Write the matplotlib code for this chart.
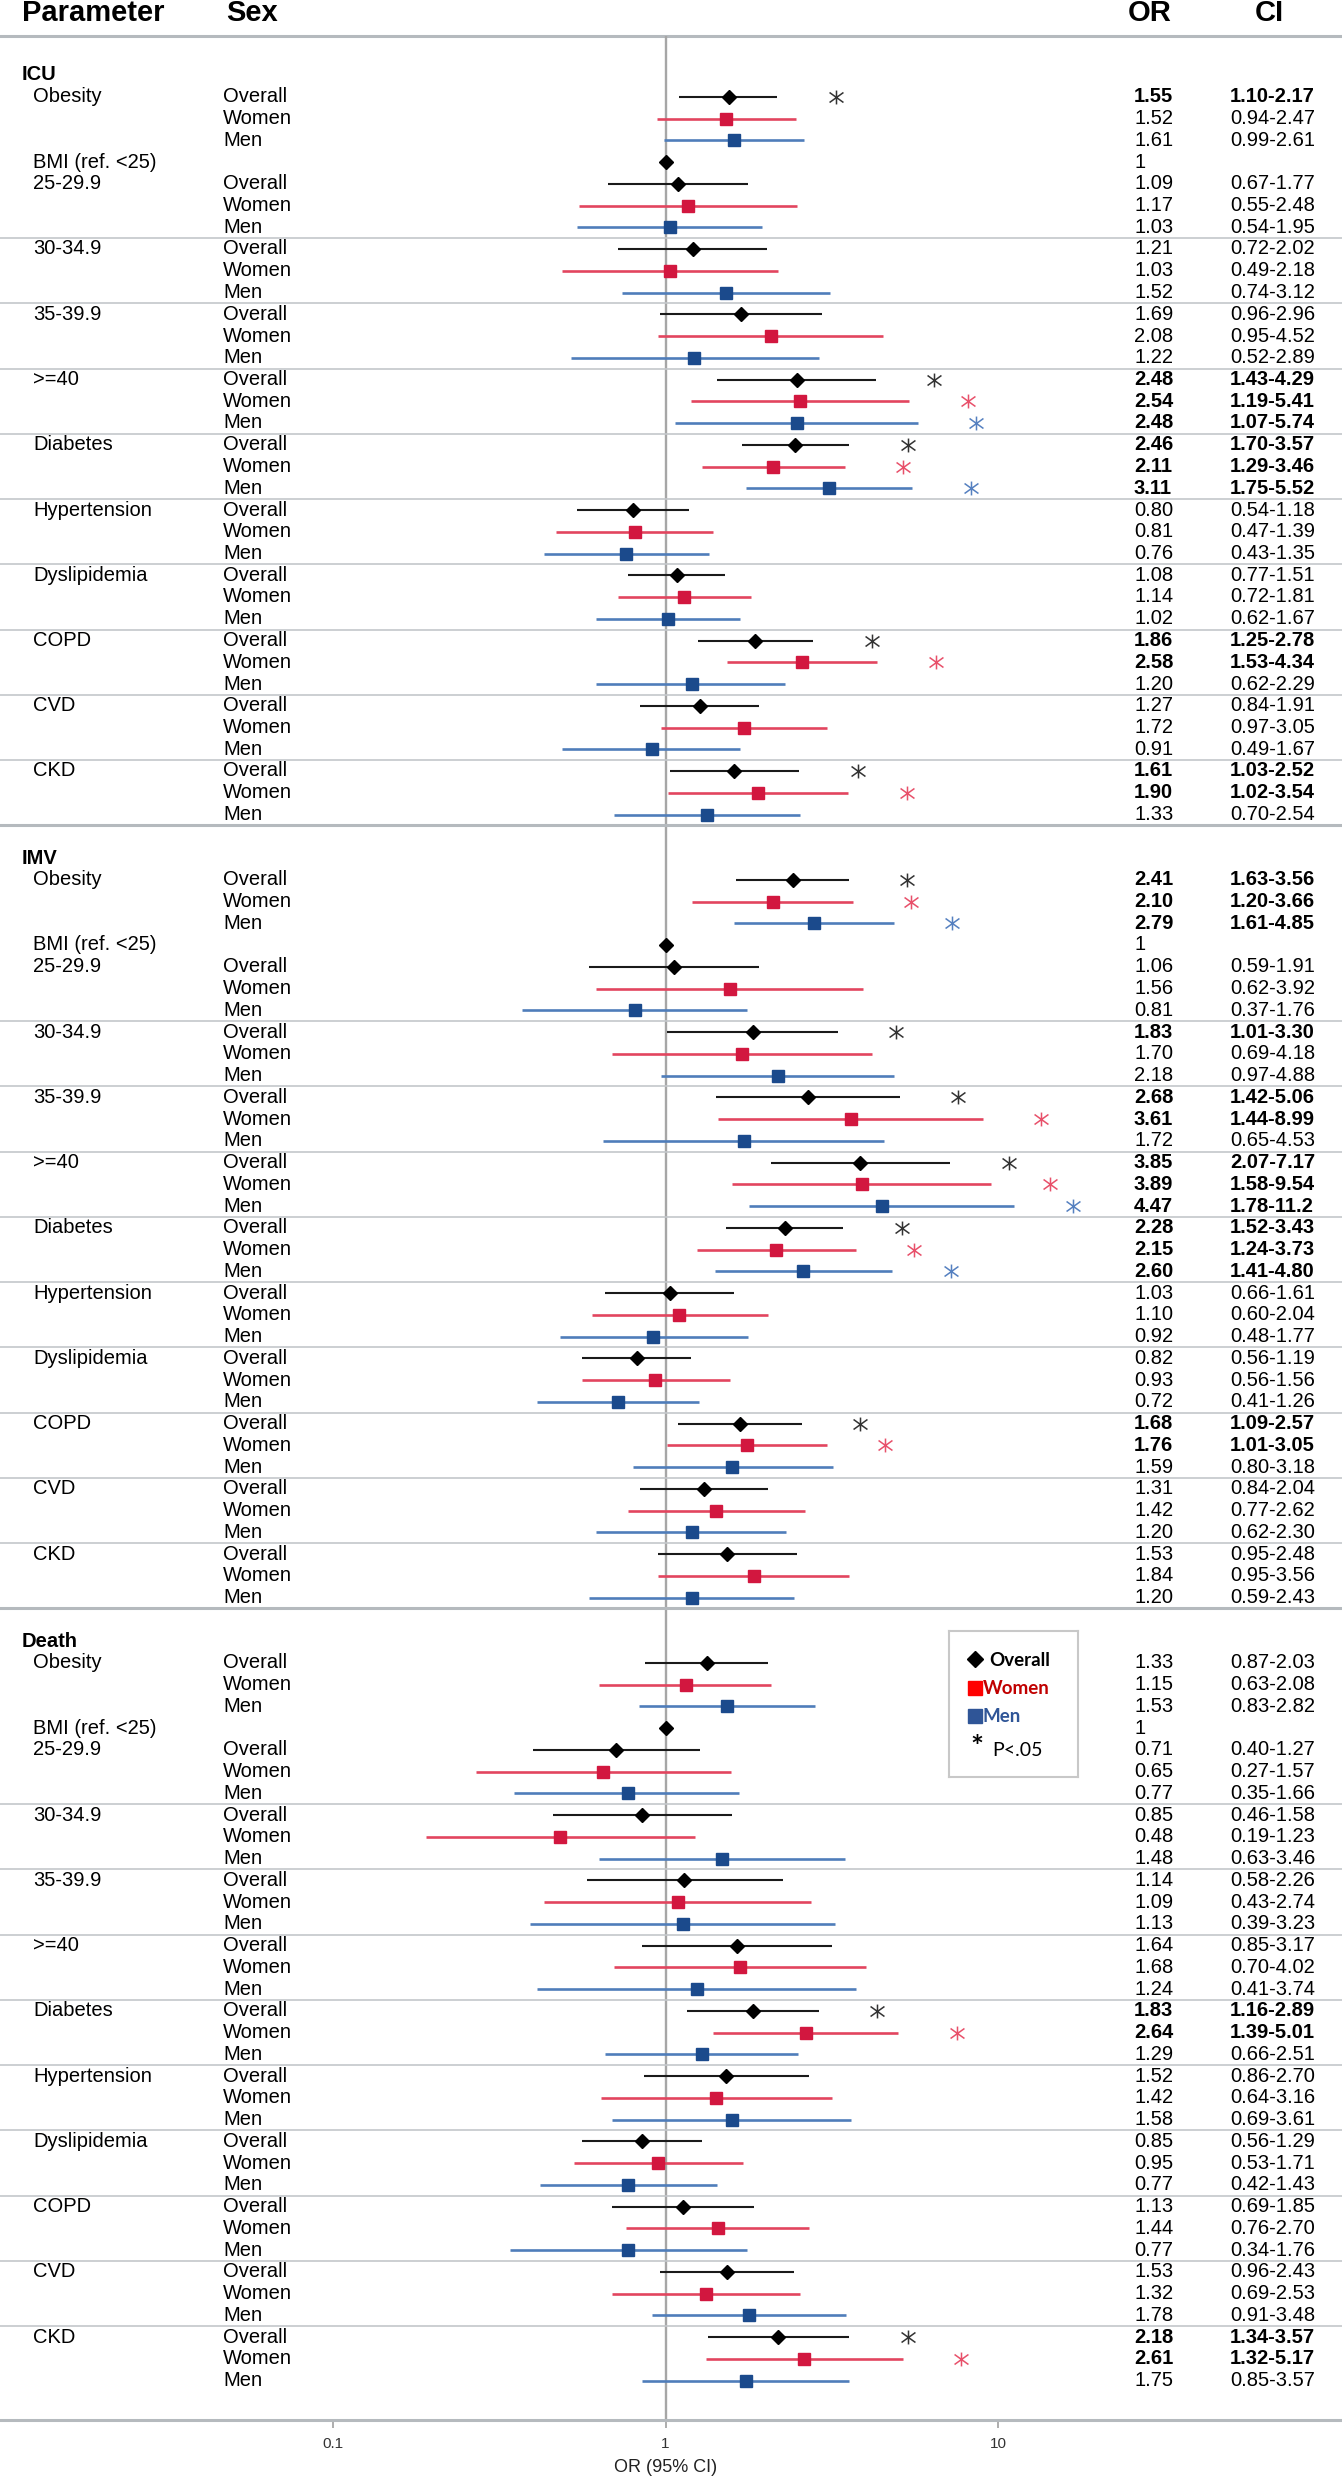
import numpy as np
import matplotlib
matplotlib.use("Agg")
import matplotlib.pyplot as plt
from matplotlib.path import Path
from matplotlib.transforms import blended_transform_factory
from matplotlib.ticker import NullLocator

plt.rcParams['font.family'] = ['Liberation Sans', 'DejaVu Sans']

# ---- data ----
sections = ['ICU', 'IMV', 'Death']
params = ['Obesity', '25-29.9', '30-34.9', '35-39.9', '>=40', 'Diabetes',
          'Hypertension', 'Dyslipidemia', 'COPD', 'CVD', 'CKD']
sexes = ['Overall', 'Women', 'Men']
ref_label = 'BMI (ref. <25)'

# each row: [overall, women, men]
icu_or = [[1.55, 1.52, 1.61], [1.09, 1.17, 1.03], [1.21, 1.03, 1.52], [1.69, 2.08, 1.22],
          [2.48, 2.54, 2.48], [2.46, 2.11, 3.11], [0.80, 0.81, 0.76], [1.08, 1.14, 1.02],
          [1.86, 2.58, 1.20], [1.27, 1.72, 0.91], [1.61, 1.90, 1.33]]
icu_lo = [[1.10, 0.94, 0.99], [0.67, 0.55, 0.54], [0.72, 0.49, 0.74], [0.96, 0.95, 0.52],
          [1.43, 1.19, 1.07], [1.70, 1.29, 1.75], [0.54, 0.47, 0.43], [0.77, 0.72, 0.62],
          [1.25, 1.53, 0.62], [0.84, 0.97, 0.49], [1.03, 1.02, 0.70]]
icu_hi = [[2.17, 2.47, 2.61], [1.77, 2.48, 1.95], [2.02, 2.18, 3.12], [2.96, 4.52, 2.89],
          [4.29, 5.41, 5.74], [3.57, 3.46, 5.52], [1.18, 1.39, 1.35], [1.51, 1.81, 1.67],
          [2.78, 4.34, 2.29], [1.91, 3.05, 1.67], [2.52, 3.54, 2.54]]

imv_or = [[2.41, 2.10, 2.79], [1.06, 1.56, 0.81], [1.83, 1.70, 2.18], [2.68, 3.61, 1.72],
          [3.85, 3.89, 4.47], [2.28, 2.15, 2.60], [1.03, 1.10, 0.92], [0.82, 0.93, 0.72],
          [1.68, 1.76, 1.59], [1.31, 1.42, 1.20], [1.53, 1.84, 1.20]]
imv_lo = [[1.63, 1.20, 1.61], [0.59, 0.62, 0.37], [1.01, 0.69, 0.97], [1.42, 1.44, 0.65],
          [2.07, 1.58, 1.78], [1.52, 1.24, 1.41], [0.66, 0.60, 0.48], [0.56, 0.56, 0.41],
          [1.09, 1.01, 0.80], [0.84, 0.77, 0.62], [0.95, 0.95, 0.59]]
imv_hi = [[3.56, 3.66, 4.85], [1.91, 3.92, 1.76], [3.30, 4.18, 4.88], [5.06, 8.99, 4.53],
          [7.17, 9.54, 11.2], [3.43, 3.73, 4.80], [1.61, 2.04, 1.77], [1.19, 1.56, 1.26],
          [2.57, 3.05, 3.18], [2.04, 2.62, 2.30], [2.48, 3.56, 2.43]]

death_or = [[1.33, 1.15, 1.53], [0.71, 0.65, 0.77], [0.85, 0.48, 1.48], [1.14, 1.09, 1.13],
            [1.64, 1.68, 1.24], [1.83, 2.64, 1.29], [1.52, 1.42, 1.58], [0.85, 0.95, 0.77],
            [1.13, 1.44, 0.77], [1.53, 1.32, 1.78], [2.18, 2.61, 1.75]]
death_lo = [[0.87, 0.63, 0.83], [0.40, 0.27, 0.35], [0.46, 0.19, 0.63], [0.58, 0.43, 0.39],
            [0.85, 0.70, 0.41], [1.16, 1.39, 0.66], [0.86, 0.64, 0.69], [0.56, 0.53, 0.42],
            [0.69, 0.76, 0.34], [0.96, 0.69, 0.91], [1.34, 1.32, 0.85]]
death_hi = [[2.03, 2.08, 2.82], [1.27, 1.57, 1.66], [1.58, 1.23, 3.46], [2.26, 2.74, 3.23],
            [3.17, 4.02, 3.74], [2.89, 5.01, 2.51], [2.70, 3.16, 3.61], [1.29, 1.71, 1.43],
            [1.85, 2.70, 1.76], [2.43, 2.53, 3.48], [3.57, 5.17, 3.57]]

all_or = [icu_or, imv_or, death_or]
all_lo = [icu_lo, imv_lo, death_lo]
all_hi = [icu_hi, imv_hi, death_hi]

# ---- styling ----
W, H = 1342, 2480
ROW = 21.75          # px per row
TOP_ROW_PX = 75      # pixel of first section header row
AXIS_PX = 2420

mk_face = ['black', '#D2173F', '#1B4A8C']
ln_color = ['#1a1a1a', '#E2455F', '#4F7DBA']
ast_color = ['#333333', '#E8506A', '#5580C0']
markers = ['D', 's', 's']
msizes = [7, 8.5, 8.5]
lwidths = [1.5, 1.9, 1.9]
sep_color = '#C3C7CB'
thick_color = '#B5BABE'

fs = 14.5


def fmt(v):
    return f"{v:.1f}" if v >= 10 else f"{v:.2f}"


fig = plt.figure(figsize=(W / 100, H / 100), dpi=100)
ax = fig.add_axes([0, (H - AXIS_PX) / H, 1, AXIS_PX / H])
ax.set_xscale('log')
dec, one_px = 332.5, 665.5
ax.set_xlim(10 ** (-one_px / dec), 10 ** ((W - one_px) / dec))
y_top = -TOP_ROW_PX / ROW
ax.set_ylim(y_top + AXIS_PX / ROW, y_top)

tx = blended_transform_factory(ax.transAxes, ax.transData)


def px(x):
    return x / W


ast_path = Path([(0, -1), (0, 1), (-1, -0.72), (1, 0.72), (-1, 0.72), (1, -0.72)],
                [Path.MOVETO, Path.LINETO] * 3)

# header
head_y = (13 - TOP_ROW_PX) / ROW
for lab, xp in [('Parameter', 22), ('Sex', 226), ('OR', 1128), ('CI', 1255)]:
    ax.text(px(xp), head_y, lab, transform=tx, fontsize=21, fontweight='bold',
            va='center', ha='left')
line_y = (36 - TOP_ROW_PX) / ROW
ax.axhline(line_y, color=thick_color, lw=2.2, zorder=1)

# reference line at OR = 1
ax.vlines(1, line_y, y_top + AXIS_PX / ROW, color='#A6A6A6', lw=1.7, zorder=1)

for si, sec in enumerate(sections):
    s = 36 * si
    ax.text(px(22), s, sec, transform=tx, fontsize=fs, fontweight='bold', va='center')
    # reference BMI row
    ax.text(px(33), s + 4, ref_label, transform=tx, fontsize=fs, va='center')
    ax.plot(1, s + 4, 'D', color='black', ms=7, zorder=4)
    ax.text(px(1134), s + 4, '1', transform=tx, fontsize=fs, va='center')

    for j, p in enumerate(params):
        base = s + 1 if j == 0 else s + 5 + 3 * (j - 1)
        ax.text(px(33), base, p, transform=tx, fontsize=fs, va='center')
        for k, sx in enumerate(sexes):
            r = base + k
            o = all_or[si][j][k]
            lo = all_lo[si][j][k]
            hi = all_hi[si][j][k]
            sig = lo > 1
            ax.text(px(223), r, sx, transform=tx, fontsize=fs, va='center')
            ax.hlines(r, lo, hi, color=ln_color[k], lw=lwidths[k], zorder=2)
            ax.plot(o, r, markers[k], color=mk_face[k], ms=msizes[k], zorder=4)
            wt = 'bold' if sig else 'normal'
            ax.text(px(1134), r, fmt(o), transform=tx, fontsize=fs, va='center', fontweight=wt)
            ax.text(px(1230), r, f"{fmt(lo)}-{fmt(hi)}", transform=tx, fontsize=fs,
                    va='center', fontweight=wt)
            if sig:
                ax.plot(hi * 1.5, r, marker=ast_path, ms=10, mec=ast_color[k],
                        mfc='none', mew=1.1, ls='none', zorder=4)
        # group separators
        if 1 <= j <= 9:
            ax.axhline(base + 2.5, color=sep_color, lw=1.2, zorder=1)
    if si < 2:
        ax.axhline(s + 34.5, color=thick_color, lw=2.2, zorder=1)

# axis
for side in ['top', 'left', 'right']:
    ax.spines[side].set_visible(False)
ax.spines['bottom'].set_color(thick_color)
ax.spines['bottom'].set_linewidth(2.2)
ax.set_yticks([])
ax.set_xticks([0.1, 1, 10])
ax.set_xticklabels(['0.1', '1', '10'], family=['Liberation Sans Narrow', 'Liberation Sans'])
ax.xaxis.set_minor_locator(NullLocator())
ax.tick_params(axis='x', length=6, width=1.2, color='#A0A0A0', labelsize=11,
               labelcolor='#333333', pad=6)
fig.text(one_px / W, (H - 2468) / H, 'OR (95% CI)', ha='center', va='center',
         fontsize=13, color='#222222', family=['Liberation Sans Narrow', 'Liberation Sans'])

# legend box
lx0, lx1, ly0, ly1 = 949, 1078, 1631, 1777
lax = fig.add_axes([lx0 / W, (H - ly1) / H, (lx1 - lx0) / W, (ly1 - ly0) / H])
lax.set_xlim(0, lx1 - lx0)
lax.set_ylim(ly1 - ly0, 0)
lax.set_xticks([])
lax.set_yticks([])
for sp in lax.spines.values():
    sp.set_color('#C8C8C8')
    sp.set_linewidth(1.5)
lfam = ['Lato', 'DejaVu Sans']
lfs = 13.5
lax.plot(26, 28, 'D', color='black', ms=8.5)
lax.text(40, 29, 'Overall', fontsize=lfs, fontweight='bold', va='center', family=lfam)
lax.plot(26, 57, 's', color='#FF0000', ms=9.4)
lax.text(34, 58, 'Women', fontsize=lfs, fontweight='bold', va='center', color='#C00000', family=lfam)
lax.plot(26, 85, 's', color='#2F5597', ms=9.4)
lax.text(34, 86, 'Men', fontsize=lfs, fontweight='bold', va='center', color='#2F5597', family=lfam)
lax.text(28, 117, '*', fontsize=22, fontweight='bold', ha='center', va='center', family=lfam)
lax.text(43, 120, 'P<.05', fontsize=14, va='center', family=lfam)

fig.savefig('out.png', dpi=100, facecolor='white')
